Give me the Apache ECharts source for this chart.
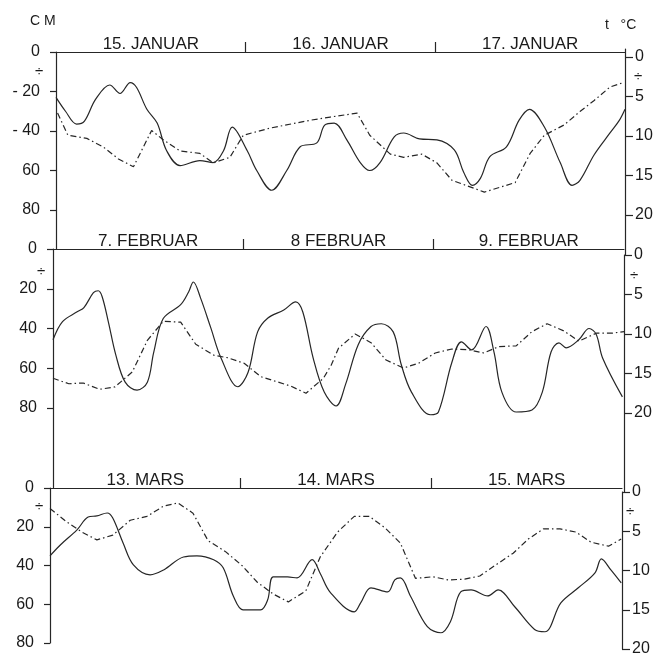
<!DOCTYPE html>
<html><head><meta charset="utf-8">
<script src="https://cdn.jsdelivr.net/npm/echarts@6/dist/echarts.min.js"></script>
<style>html,body{margin:0;padding:0;background:#fff}#c{width:657px;height:658px}</style>
</head><body><div id="c"></div>
<script>
// ---- data ----
const daysJan = ['15. JANUAR', '16. JANUAR', '17. JANUAR'];
const daysFeb = ['7. FEBRUAR', '8 FEBRUAR', '9. FEBRUAR'];
const daysMar = ['13. MARS', '14. MARS', '15. MARS'];
const dayLabelHours = [12, 36, 60];
const dayTickHours = [24, 48];
const cmTicks = [0, 20, 40, 60, 80];
const cmLabelsJan = ['0', '- 20', '- 40', '60', '80'];
const cmLabels = ['0', '20', '40', '60', '80'];
const tTicks = [0, 5, 10, 15, 20];
const tLabels = ['0', '5', '10', '15', '20'];

// [hour, cm]
const janCm = [[0,23],[1.2,30],[2.6,36.5],[3.6,35],[5,24],[6.8,16.7],[8.1,21],[9.4,15.5],[10.2,18],[11.5,29],[12.8,36],[14,50],[15.7,57.5],[18.2,55],[19.9,56],[21.2,50],[22.3,38],[24.2,50],[25.4,60],[27.3,70],[29.2,60],[30.9,48],[33,46],[34,37],[35.2,36],[36.8,44.5],[38.5,56],[39.7,60],[41,56],[42.8,43],[44,41],[46,44],[48.2,44.5],[50.4,49.6],[51.6,61],[52.7,67.5],[53.7,64],[54.9,53],[57,48],[58.6,34.5],[59.9,29],[61.8,38],[63.8,56],[65.3,67.5],[66.3,65],[68.1,52],[70.1,41],[71.3,34.5],[72,29]];
// [hour, °C below zero]
const janTemp = [[0.2,7.1],[1.5,9.9],[3.9,10.3],[6,11.4],[7.9,12.9],[9.8,13.9],[12.1,9.3],[13.6,10.5],[15.7,11.9],[18.2,12.2],[19.9,13.4],[22,12.7],[23.7,9.9],[27.1,9],[32.2,8],[34.7,7.6],[38.1,7.1],[39.7,9.9],[42.3,12.3],[44,12.7],[46.3,12.3],[48.2,13.4],[50.1,15.6],[54.2,17.1],[58.1,15.9],[60,12.2],[61.8,9.9],[64.3,8.6],[66.3,6.9],[68.1,5.5],[70.1,3.8],[71.9,3.2]];

const febCm = [[0,45.7],[1.2,36.5],[3.1,31.5],[3.9,29.5],[5.1,22],[5.7,21],[6.2,24],[7,37],[7.9,53],[9.1,67],[10.6,71],[11.9,67],[12.7,52],[13.9,35],[16.1,28],[17.1,21.6],[17.7,16.6],[18.6,24.6],[19.9,39.7],[21.2,55],[23.3,69.3],[24.6,62],[25.8,41.7],[27.1,34.7],[29.1,30.7],[30.6,26.6],[31.5,31.7],[32.8,54.8],[34.2,72],[35.7,79],[36.9,68],[38.5,48],[40.1,39],[41.4,37.6],[42.9,41.7],[43.9,58],[45.2,72],[47.6,83.4],[48.6,82],[50.3,57],[51.5,46.7],[52.8,50.8],[54.6,39],[55.6,51.8],[56.6,72],[58.4,82],[60.4,81],[61.7,72],[62.8,51.8],[63.8,47.2],[64.7,49.7],[66.3,45.7],[67.6,40],[68.5,43],[69.3,54.8],[71.8,74.4]];
const febTemp = [[0,15.6],[2,16.3],[3.8,16.2],[5.9,17],[7.8,16.7],[10,14.8],[11.9,10.8],[13.9,8.4],[16.1,8.5],[18,11.3],[20.3,12.7],[22,13],[24.1,13.7],[26.2,15.4],[30,16.6],[31.9,17.5],[34.1,15.6],[35.1,13.9],[36,11.8],[38.1,10],[40.1,11.1],[42,13.3],[44.2,14.3],[46.1,13.7],[48.2,12.4],[50.3,11.9],[52.4,12],[54.3,12.4],[56.2,11.6],[58.4,11.5],[60.4,9.7],[62.3,8.7],[64.4,9.6],[66.3,10.9],[68.5,9.9],[70.5,9.9],[72,9.7]];

const marCm = [[0,35],[1.3,29.4],[3.4,21.6],[4.8,15],[5.9,14.4],[7.2,12.9],[7.9,15.5],[9.2,28.4],[10.5,39.7],[12.6,44.8],[14.3,42.3],[16.8,35.6],[18.5,35],[20.6,37],[21.8,41.2],[23.1,56],[24.3,62.9],[26.5,62.9],[27.4,57.7],[28.1,45.9],[29.9,45.9],[31.1,46.4],[33,37],[34,44],[35.3,54],[38.3,63.9],[39.1,59.3],[40.4,51.5],[42.5,53.6],[43.4,47.4],[44.1,46.4],[45.4,56],[47.5,71.6],[49.2,74.7],[50.4,69],[51.7,53.6],[53,52.6],[55.1,55.7],[56.4,52.6],[58.5,61.3],[61,73],[62.3,74.2],[64.3,59.3],[66.5,51.5],[68.6,43.8],[69.4,36.6],[70.6,42.3],[71.9,49]];
const marTemp = [[0,2.1],[2.1,3.8],[4,5.1],[5.9,6.1],[7.9,5.5],[10.1,3.6],[12.2,3.1],[14.3,1.8],[16.1,1.4],[18,2.7],[19.9,6.2],[22.1,7.6],[24.2,9.4],[26.1,11.5],[28.1,13],[30,14],[32.2,12.6],[34,8.3],[36.2,5.1],[38.3,3.1],[40.2,3.1],[42.2,4.6],[44.1,6.5],[46,11],[48.2,10.8],[50.1,11.2],[52.2,11.1],[54.1,10.7],[56.1,9.3],[58.3,7.8],[60.2,6],[62.1,4.7],[64.2,4.7],[66.2,5.1],[68.1,6.4],[70.3,6.9],[71.9,6]];

// ---- layout ----
const FONT = 'Liberation Sans, Arial, sans-serif';
const INK = '#262626';
const panels = [
  {days: daysJan, cm: janCm, temp: janTemp, cmLabels: cmLabelsJan, left: 56, right: 32, cTop: 52, cH: 197.5, cMax: 100, tTop: 49.1, tH: 205.4, tMin: -1, tMax: 25},
  {days: daysFeb, cm: febCm, temp: febTemp, cmLabels: cmLabels, left: 53, right: 33, cTop: 249, cH: 238.5, cMax: 120, tTop: 255, tH: 237, tMin: 0, tMax: 30},
  {days: daysMar, cm: marCm, temp: marTemp, cmLabels: cmLabels, left: 50, right: 35, cTop: 488, cH: 155, cMax: 80, tTop: 492, tH: 157, tMin: 0, tMax: 20}
];

const grid = [], xAxis = [], yAxis = [], series = [];
panels.forEach((p, i) => {
  const gc = grid.length;
  grid.push({left: p.left, right: p.right, top: p.cTop, height: p.cH, outerBoundsMode: 'none', containLabel: false});
  grid.push({left: p.left, right: p.right, top: p.tTop, height: p.tH, outerBoundsMode: 'none', containLabel: false});
  const dayMap = {};
  dayLabelHours.forEach((h, k) => dayMap[h] = p.days[k]);
  xAxis.push({
    gridIndex: gc, type: 'value', min: 0, max: 72, position: 'top',
    axisLine: {show: true, onZero: false, lineStyle: {color: INK, width: 1.2}},
    axisTick: {show: true, customValues: dayTickHours, length: 10, lineStyle: {color: INK, width: 1.2}},
    axisLabel: {show: true, customValues: dayLabelHours, margin: -1, formatter: v => dayMap[v] || '',
      color: '#1a1a1a', fontFamily: FONT, fontSize: 17},
    splitLine: {show: false}
  });
  xAxis.push({gridIndex: gc + 1, type: 'value', min: 0, max: 72, show: false});
  const cmMap = {};
  cmTicks.forEach((v, k) => cmMap[v] = p.cmLabels[k]);
  yAxis.push({
    gridIndex: gc, type: 'value', position: 'left', inverse: true, min: 0, max: p.cMax,
    axisLine: {show: true, onZero: false, lineStyle: {color: INK, width: 1.2}},
    axisTick: {show: true, customValues: cmTicks, length: 6, lineStyle: {color: INK, width: 1.2}},
    axisLabel: {show: true, customValues: cmTicks, margin: 16, formatter: v => cmMap[v] || '',
      color: '#1a1a1a', fontFamily: FONT, fontSize: 16},
    splitLine: {show: false}
  });
  yAxis.push({
    gridIndex: gc + 1, type: 'value', position: 'right', inverse: true, min: p.tMin, max: p.tMax,
    axisLine: {show: true, onZero: false, lineStyle: {color: INK, width: 1.2}},
    axisTick: {show: true, customValues: tTicks, length: 8, lineStyle: {color: INK, width: 1.2}},
    axisLabel: {show: true, customValues: tTicks, margin: 10, formatter: v => tLabels[tTicks.indexOf(v)] || '',
      color: '#1a1a1a', fontFamily: FONT, fontSize: 16},
    splitLine: {show: false}
  });
  series.push({
    type: 'line', xAxisIndex: gc, yAxisIndex: gc, data: p.cm, smooth: 0.35,
    showSymbol: false, lineStyle: {color: INK, width: 1.2}, silent: true, animation: false
  });
  series.push({
    type: 'line', xAxisIndex: gc + 1, yAxisIndex: gc + 1, data: p.temp, smooth: false,
    showSymbol: false, lineStyle: {color: INK, width: 1.2, type: [6, 3, 1.5, 3]}, silent: true, animation: false
  });
});

const txt = (x, y, s, size) => ({type: 'text', left: x, top: y, silent: true,
  style: {text: s, fill: '#1a1a1a', font: size + 'px ' + FONT}});

const chart = echarts.init(document.getElementById('c'), null, {renderer: 'canvas'});
chart.setOption({
  backgroundColor: '#fff',
  animation: false,
  grid, xAxis, yAxis, series,
  graphic: [
    txt(30, 14, 'C M', 14),
    txt(605, 18, 't   °C', 14),
    txt(35, 64, '÷', 15), txt(37, 264, '÷', 15), txt(35, 499, '÷', 15),
    txt(634, 69, '÷', 15), txt(630, 268, '÷', 15), txt(626, 504, '÷', 15)
  ]
});
</script>
</body></html>
